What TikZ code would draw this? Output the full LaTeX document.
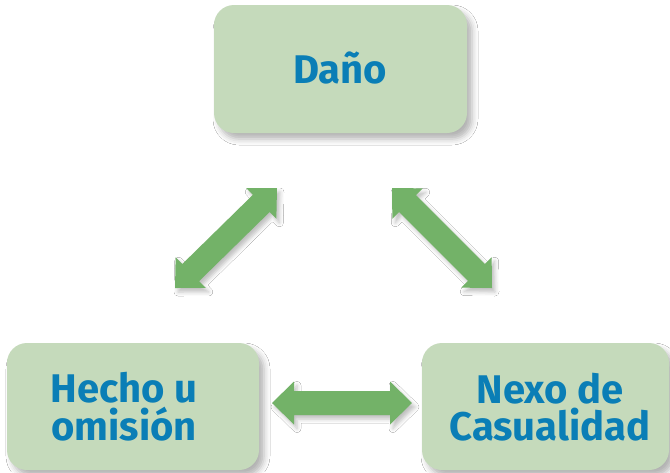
\documentclass[tikz,border=0pt]{standalone}
\usepackage{fontspec}
\setmainfont{Fira Sans}
\usetikzlibrary{calc,shadows.blur}
\definecolor{boxfill}{HTML}{C5DABB}
\definecolor{txtblue}{HTML}{0A7EB6}
\definecolor{arrgreen}{HTML}{73B268}
\tikzset{
  box/.style={rectangle, rounded corners=20pt, fill=boxfill, inner sep=0pt,
    blur shadow={shadow xshift=5pt, shadow yshift=-6pt, shadow blur radius=6pt, shadow opacity=30}},
  lbl/.style={text=txtblue, font=\fontsize{40}{38}\selectfont\bfseries, inner sep=0pt, anchor=base},
  arrfill/.style={fill=arrgreen,
    blur shadow={shadow xshift=3pt, shadow yshift=-4pt, shadow blur radius=4pt, shadow opacity=25}}
}
\newcommand\dblarrow[2]{%
  \fill[arrfill]
  (#1) -- ($(#1)!22pt!(#2)!21.5pt!90:(#2)$) -- ($(#1)!22pt!(#2)!12pt!90:(#2)$)
  -- ($(#2)!22pt!(#1)!12pt!-90:(#1)$) -- ($(#2)!22pt!(#1)!21.5pt!-90:(#1)$)
  -- (#2) -- ($(#2)!22pt!(#1)!21.5pt!90:(#1)$) -- ($(#2)!22pt!(#1)!12pt!90:(#1)$)
  -- ($(#1)!22pt!(#2)!12pt!-90:(#2)$) -- ($(#1)!22pt!(#2)!21.5pt!-90:(#2)$) -- cycle;}
\begin{document}
\begin{tikzpicture}[x=1pt,y=-1pt]
\useasboundingbox[fill=white] (0,0) rectangle (670,472);
% boxes
\node[box, minimum width=253pt, minimum height=128pt] (dano) at (340.5,69) {};
\node[box, minimum width=252pt, minimum height=127pt] (hecho) at (133,406.5) {};
\node[box, minimum width=247pt, minimum height=127pt] (nexo) at (545.5,406.5) {};
% labels
\node[lbl] (danoT) at (340,83) {Daño};
\node[lbl] (hechoA) at (124,402) {Hecho u};
\node[lbl] (hechoB) at (124,440) {omisión};
\node[lbl] (nexoA) at (550,403) {Nexo de};
\node[lbl] (nexoB) at (550,440) {Casualidad};
% arrows
\coordinate (l1) at (277,188);
\coordinate (l2) at (175,288);
\coordinate (r1) at (392,188);
\coordinate (r2) at (492,288);
\coordinate (h1) at (272,403);
\coordinate (h2) at (412,403);
\dblarrow{l1}{l2}
\dblarrow{r1}{r2}
\dblarrow{h1}{h2}
\end{tikzpicture}
\end{document}
